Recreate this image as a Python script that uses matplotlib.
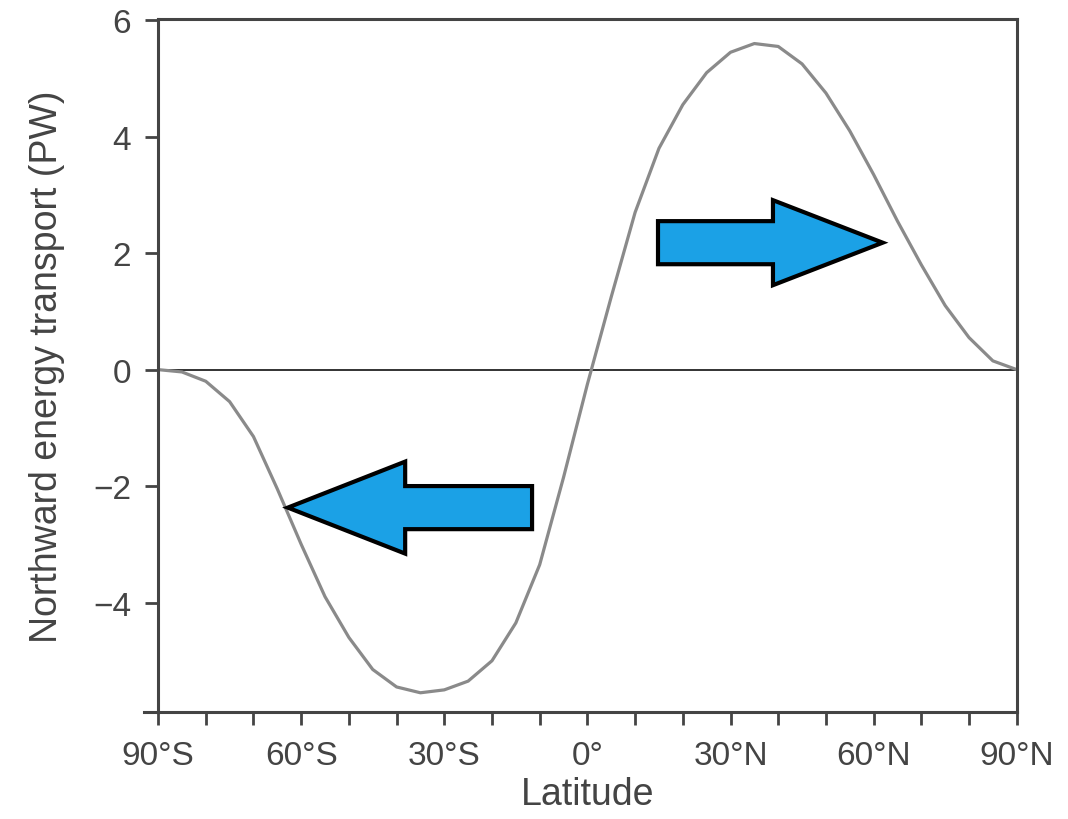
import matplotlib
matplotlib.use('Agg')
import matplotlib.pyplot as plt
import numpy as np
from matplotlib.patches import FancyArrow

plt.rcParams['font.family'] = ['Liberation Sans', 'DejaVu Sans']

# latitud cada 5 grados (negativo = sur)
lat = np.arange(-90, 91, 5)
# transporte de energia hacia el norte (PW)
transport = [0.0, -0.04, -0.2, -0.55, -1.15, -2.05, -3.0, -3.9, -4.6, -5.15,
             -5.45, -5.55, -5.5, -5.35, -5.0, -4.35, -3.35, -1.85, -0.25,
             1.25, 2.7, 3.8, 4.55, 5.1, 5.45, 5.6, 5.55, 5.25, 4.75,
             4.1, 3.35, 2.55, 1.8, 1.1, 0.55, 0.15, 0.0]

major_ticks = [-90, -60, -30, 0, 30, 60, 90]
major_labels = ['90°S', '60°S', '30°S', '0°', '30°N', '60°N', '90°N']
minor_ticks = np.arange(-90, 91, 10)
y_ticks = [-4, -2, 0, 2, 4, 6]
y_labels = ['\u22124', '\u22122', '0', '2', '4', '6']

fig = plt.figure(figsize=(10.68, 8.2), dpi=100)
ax = fig.add_axes([0.148, 0.1305, 0.804, 0.845])

ax.axhline(0, color='#333333', lw=1.4, zorder=1)
ax.plot(lat, transport, color='#8a8a8a', lw=2.3, zorder=2)

# flechas azules
blue = '#1ba1e6'
ax.add_patch(FancyArrow(14.8, 2.18, 47.1, 0, width=0.74, head_width=1.46,
                        head_length=23.0, length_includes_head=True,
                        facecolor=blue, edgecolor='black', lw=3, zorder=3))
ax.add_patch(FancyArrow(-11.6, -2.37, -51.2, 0, width=0.74, head_width=1.58,
                        head_length=24.6, length_includes_head=True,
                        facecolor=blue, edgecolor='black', lw=3, zorder=3))

ax.set_xlim(-90, 90)
ax.set_ylim(-5.88, 6.02)
ax.set_xticks(major_ticks)
ax.set_xticklabels(major_labels)
ax.set_xticks(minor_ticks, minor=True)
ax.set_yticks(y_ticks)
ax.set_yticklabels(y_labels)

ax.tick_params(axis='both', which='both', direction='out', length=9.5,
               width=2, color='#444444', labelcolor='#444444', labelsize=24)
ax.tick_params(axis='x', pad=11)
ax.tick_params(axis='y', pad=10)

for s in ax.spines.values():
    s.set_color('#444444')
    s.set_linewidth(2.2)

# pedacito del eje inferior que sobresale a la izquierda
ax.plot([-0.016, 0], [0, 0], color='#444444', lw=2.2,
        transform=ax.transAxes, clip_on=False)

ax.set_xlabel('Latitude', fontsize=27, color='#444444', labelpad=3)
ax.set_ylabel('Northward energy transport (PW)', fontsize=27,
              color='#444444', labelpad=20)

fig.savefig('out.png', dpi=100)
